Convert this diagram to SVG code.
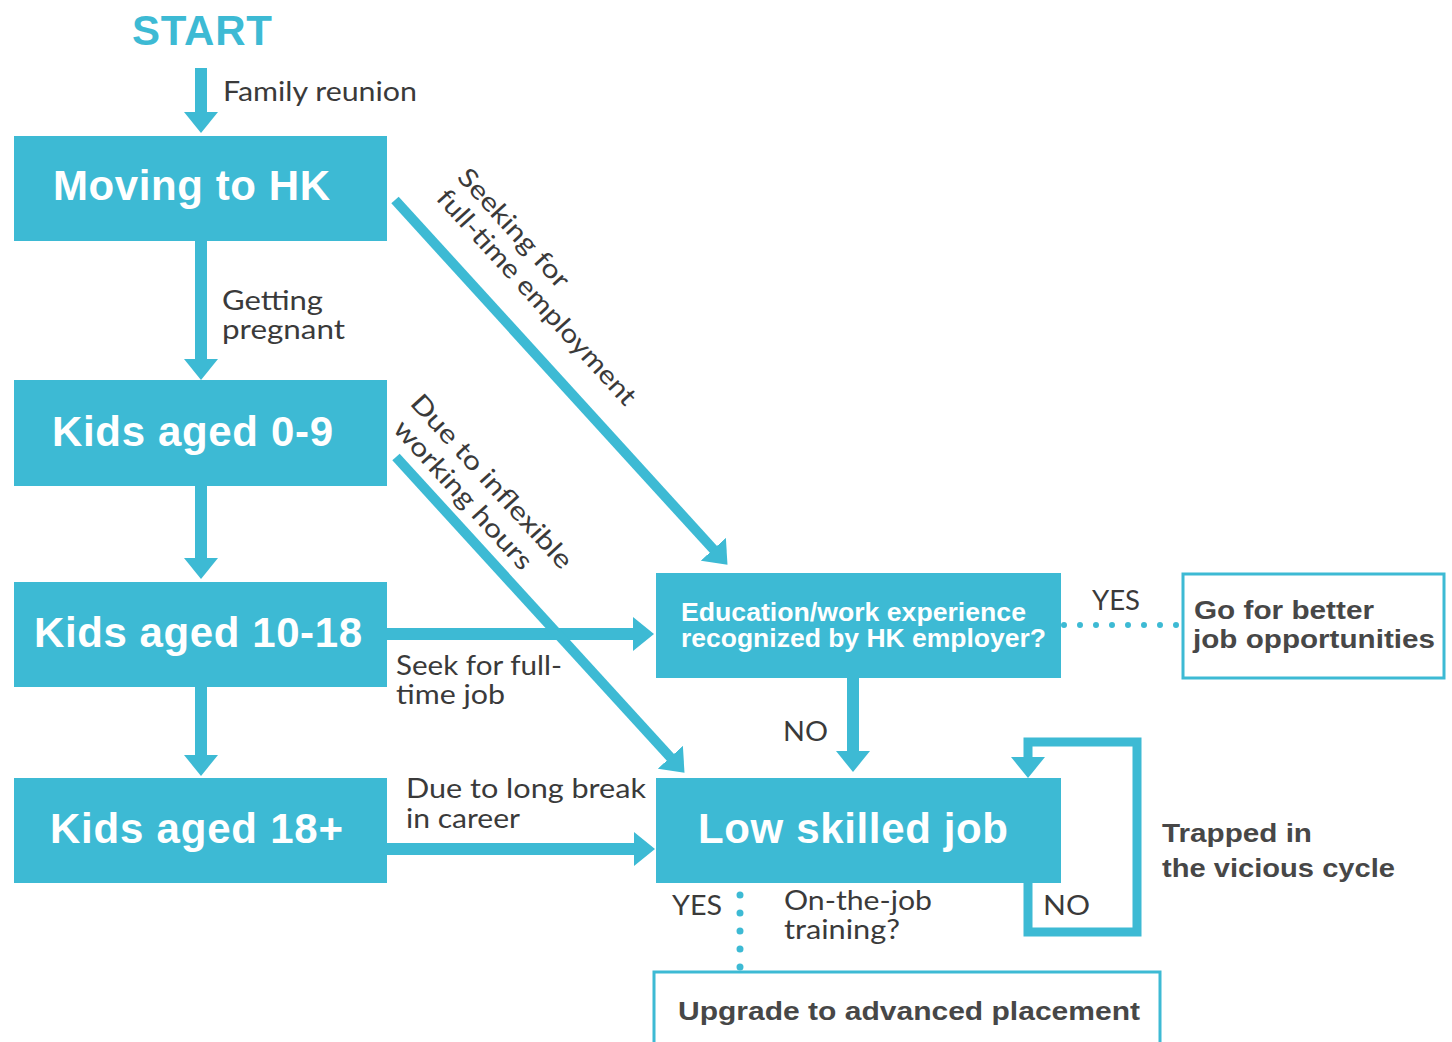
<svg xmlns="http://www.w3.org/2000/svg" width="1452" height="1042" viewBox="0 0 1452 1042">
<style>
.box{fill:#3dbad4}
.obox{fill:#fff;stroke:#3dbad4;stroke-width:3}
.title{font-family:"Liberation Sans",Arial,sans-serif;font-weight:bold;fill:#fff;font-size:42px}
.small{font-family:"Liberation Sans",Arial,sans-serif;font-weight:bold;fill:#fff;font-size:25px}
.lbl{font-family:Lato,"Open Sans",sans-serif;fill:#3a3a3a;font-size:26px}
.blbl{font-family:"Liberation Sans",Arial,sans-serif;font-weight:bold;fill:#474747;font-size:26px}
.ln{stroke:#3dbad4;stroke-width:12;fill:none}
.dg{stroke:#3dbad4;stroke-width:10;fill:none}
.dot{stroke:#3dbad4;stroke-linecap:round;fill:none}
</style>
<defs>
<marker id="ah" markerUnits="userSpaceOnUse" markerWidth="22" markerHeight="34" refX="1" refY="17" orient="auto" viewBox="0 0 22 34">
<path d="M0,0 L21,17 L0,34 z" fill="#3dbad4"/>
</marker>
</defs>
<text x="132" y="45" class="title" style="fill:#3dbad4" textLength="140">START</text>
<g id="connectors">
<line class="ln" x1="201" y1="68" x2="201" y2="113" marker-end="url(#ah)"/>
<line class="ln" x1="201" y1="240" x2="201" y2="360" marker-end="url(#ah)"/>
<line class="ln" x1="201" y1="486" x2="201" y2="559" marker-end="url(#ah)"/>
<line class="ln" x1="201" y1="687" x2="201" y2="756" marker-end="url(#ah)"/>
<line class="ln" x1="386" y1="634" x2="634" y2="634" marker-end="url(#ah)"/>
<line class="ln" x1="386" y1="849" x2="635" y2="849" marker-end="url(#ah)"/>
<line class="ln" x1="853" y1="678" x2="853" y2="752" marker-end="url(#ah)"/>
<line class="dg" x1="395" y1="200" x2="714" y2="550" marker-end="url(#ah)"/>
<line class="dg" x1="396" y1="457" x2="671" y2="758" marker-end="url(#ah)"/>
<path d="M1028 883 V932 H1137 V742 H1028 V758" style="stroke:#3dbad4;stroke-width:9;fill:none" marker-end="url(#ah)"/>
<line class="dot" x1="1064" y1="625" x2="1177" y2="625" stroke-width="6" stroke-dasharray="0 16"/>
<line class="dot" x1="740" y1="895" x2="740" y2="968" stroke-width="7" stroke-dasharray="0 18"/>
<text x="223" y="101" class="lbl" textLength="194" lengthAdjust="spacingAndGlyphs">Family reunion</text>
<text x="222" y="310" class="lbl" textLength="101" lengthAdjust="spacingAndGlyphs">Getting</text>
<text x="222" y="339" class="lbl" textLength="123" lengthAdjust="spacingAndGlyphs">pregnant</text>
<text class="lbl" transform="translate(456,178) rotate(47.6)" textLength="152" lengthAdjust="spacingAndGlyphs">Seeking for</text>
<text class="lbl" transform="translate(435,199) rotate(47.6)" textLength="282" lengthAdjust="spacingAndGlyphs">full-time employment</text>
<text class="lbl" transform="translate(409,404) rotate(47.6)" textLength="226" lengthAdjust="spacingAndGlyphs">Due to inflexible</text>
<text class="lbl" transform="translate(392,430) rotate(47.6)" textLength="192" lengthAdjust="spacingAndGlyphs">working hours</text>
<text x="396" y="675" class="lbl" textLength="166" lengthAdjust="spacingAndGlyphs">Seek for full-</text>
<text x="396" y="704" class="lbl" textLength="109" lengthAdjust="spacingAndGlyphs">time job</text>
<text x="406" y="798" class="lbl" textLength="240" lengthAdjust="spacingAndGlyphs">Due to long break</text>
<text x="406" y="828" class="lbl" textLength="114" lengthAdjust="spacingAndGlyphs">in career</text>
<text x="783" y="741" class="lbl" textLength="45" lengthAdjust="spacingAndGlyphs">NO</text>
<text x="1092" y="610" class="lbl" textLength="48" lengthAdjust="spacingAndGlyphs">YES</text>
<text x="672" y="915" class="lbl" textLength="50" lengthAdjust="spacingAndGlyphs">YES</text>
<text x="784" y="910" class="lbl" textLength="148" lengthAdjust="spacingAndGlyphs">On-the-job</text>
<text x="784" y="939" class="lbl" textLength="116" lengthAdjust="spacingAndGlyphs">training?</text>
<text x="1043" y="915" class="lbl" textLength="47" lengthAdjust="spacingAndGlyphs">NO</text>
<text x="1162" y="842" class="blbl" textLength="150" lengthAdjust="spacingAndGlyphs">Trapped in</text>
<text x="1162" y="877" class="blbl" textLength="233" lengthAdjust="spacingAndGlyphs">the vicious cycle</text>
</g>
<g id="moving"><rect class="box" x="14" y="136" width="373" height="105"/><text x="53" y="200" class="title" textLength="277">Moving to HK</text></g>
<g id="kids09"><rect class="box" x="14" y="380" width="373" height="106"/><text x="52" y="446" class="title" textLength="281">Kids aged 0-9</text></g>
<g id="kids1018"><rect class="box" x="14" y="582" width="373" height="105"/><text x="34" y="647" class="title" textLength="328">Kids aged 10-18</text></g>
<g id="kids18"><rect class="box" x="14" y="778" width="373" height="105"/><text x="50" y="843" class="title" textLength="293">Kids aged 18+</text></g>
<g id="edu"><rect class="box" x="656" y="573" width="405" height="105"/><text x="681" y="621" class="small" textLength="345" lengthAdjust="spacingAndGlyphs">Education/work experience</text><text x="681" y="647" class="small" textLength="365" lengthAdjust="spacingAndGlyphs">recognized by HK employer?</text></g>
<g id="better"><rect class="obox" x="1183" y="574" width="261" height="104"/><text x="1194" y="619" class="blbl" textLength="180" lengthAdjust="spacingAndGlyphs">Go for better</text><text x="1193" y="648" class="blbl" textLength="242" lengthAdjust="spacingAndGlyphs">job opportunities</text></g>
<g id="low"><rect class="box" x="656" y="778" width="405" height="105"/><text x="698" y="843" class="title" textLength="310">Low skilled job</text></g>
<g id="upgrade"><rect class="obox" x="654" y="972" width="506" height="100"/><text x="678" y="1020" class="blbl" textLength="462" lengthAdjust="spacingAndGlyphs">Upgrade to advanced placement</text></g>
</svg>
